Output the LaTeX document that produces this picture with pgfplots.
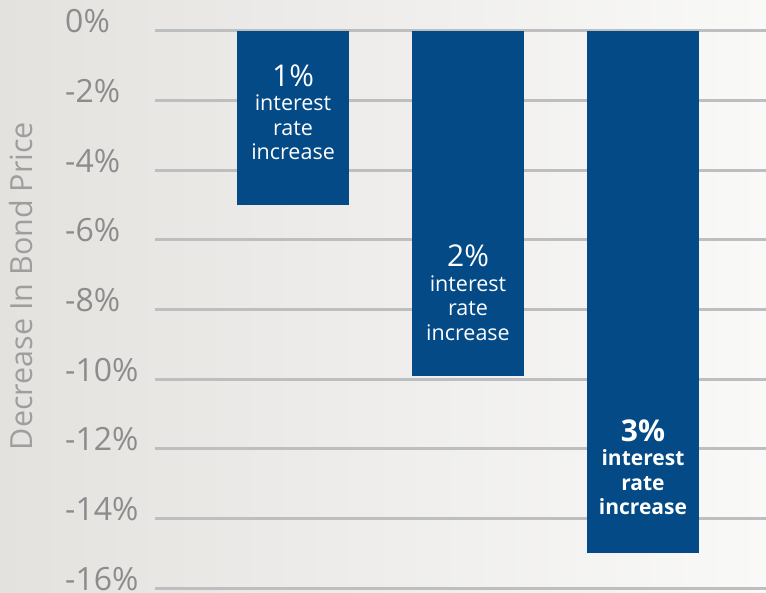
\documentclass[border=0pt]{standalone}
\usepackage{pgfplots}
\pgfplotsset{compat=1.18}
\usepackage{fontspec}
\setmainfont{Open Sans}
\definecolor{barblue}{HTML}{034A87}
\definecolor{gridgray}{HTML}{BDBEBF}
\definecolor{ticktext}{HTML}{8C8C8C}
\definecolor{labeltext}{HTML}{9E9E9E}
\definecolor{bgleft}{HTML}{E4E2DF}
\definecolor{bgright}{HTML}{F9F9F8}
\begin{document}
\begin{tikzpicture}[x=1pt,y=1pt]
\shade[left color=bgleft, right color=bgright] (0,0) rectangle (766,592);
\begin{axis}[
  at={(155pt,4pt)}, anchor=south west,
  scale only axis, width=611pt, height=557pt,
  xmin=0.211, xmax=3.703, ymin=-16, ymax=0,
  clip=false,
  axis line style={draw=none},
  major tick length=0pt,
  xtick=\empty,
  ytick={-16,-14,-12,-10,-8,-6,-4,-2,0},
  yticklabels={-16\%,-14\%,-12\%,-10\%,-8\%,-6\%,-4\%,-2\%,0\%},
  yticklabel style={anchor=base west, xshift=-90pt, yshift=-2pt, inner sep=0pt,
    font=\fontsize{32}{36}\selectfont, text=ticktext},
  ymajorgrids,
  major grid style={gridgray, line width=3pt},
  ylabel={Decrease In Bond Price},
  ylabel style={at={(axis description cs:-0.219,0.542)}, anchor=center, rotate=0,
    font=\fontsize{30.5}{34}\selectfont, text=labeltext},
  ybar, bar width=112pt, bar shift=0pt,
  nodes near coords,
  every node near coord/.append style={anchor=south, inner sep=0pt, text=white, align=center,
    font=\fontsize{21.5}{24.5}\selectfont},
]
\addplot[fill=barblue, draw=none,
  nodes near coords={{\fontsize{30}{31}\selectfont 1\%}\\interest\\rate\\increase},
  every node near coord/.append style={yshift=45pt}]
  coordinates {(1,-5)};
\addplot[fill=barblue, draw=none,
  nodes near coords={{\fontsize{30}{31}\selectfont 2\%}\\interest\\rate\\increase},
  every node near coord/.append style={yshift=35pt}]
  coordinates {(2,-9.9)};
\addplot[fill=barblue, draw=none,
  nodes near coords={{\fontsize{30}{31}\selectfont\bfseries 3\%}\\\bfseries interest\\\bfseries rate\\\bfseries increase},
  every node near coord/.append style={yshift=38pt, font=\fontsize{21}{24.5}\selectfont\bfseries}]
  coordinates {(3,-15)};
\end{axis}
\pgfresetboundingbox
\useasboundingbox (0,0) rectangle (766,592);
\end{tikzpicture}
\end{document}
